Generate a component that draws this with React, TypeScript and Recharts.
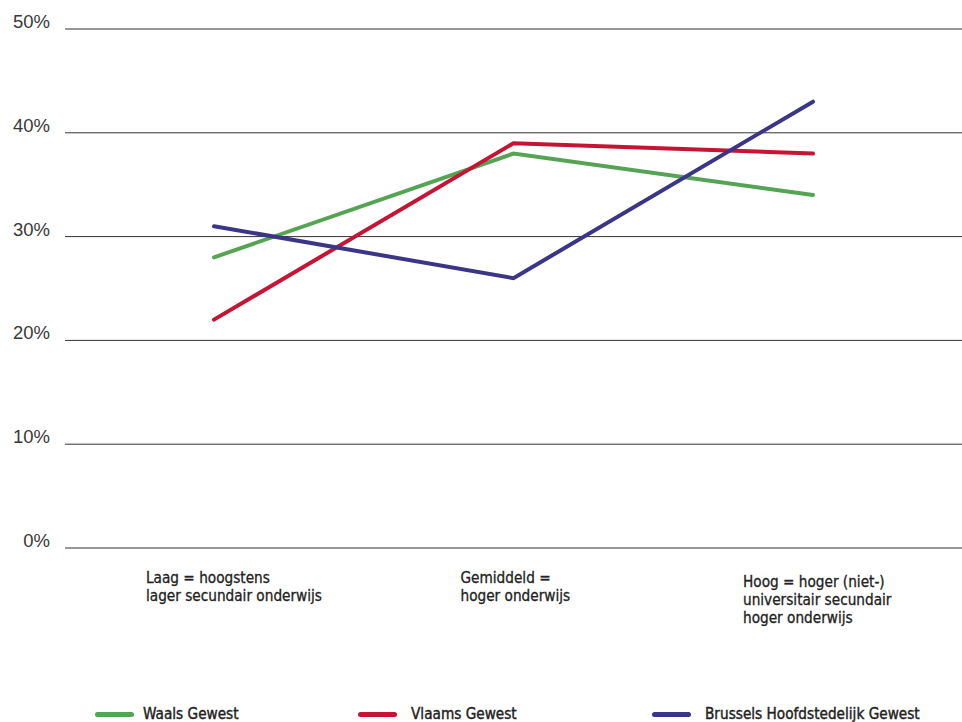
import React from "react";
import { LineChart, Line, XAxis, YAxis, CartesianGrid, Legend } from "recharts";

const categories = ["Laag", "Gemiddeld", "Hoog"];
const categoryLines: string[][] = [
  ["Laag = hoogstens", "lager secundair onderwijs"],
  ["Gemiddeld =", "hoger onderwijs"],
  ["Hoog = hoger (niet-)", "universitair secundair", "hoger onderwijs"],
];
const waals = [28, 38, 34];
const vlaams = [22, 39, 38];
const brussel = [31, 26, 43];
const yTicks = [0, 10, 20, 30, 40, 50];

const seriesNames = ["Waals Gewest", "Vlaams Gewest", "Brussels Hoofdstedelijk Gewest"];
const seriesColors = ["#55a453", "#c51434", "#3a3587"];

const data = categories.map((c, i) => ({
  cat: c,
  waals: waals[i],
  vlaams: vlaams[i],
  brussel: brussel[i],
}));

const catFont = "'Liberation Sans Narrow', 'Arial Narrow', 'DejaVu Sans Condensed', sans-serif";
const tickDx = [-68, -53, -70];
const tickDy = [35, 35, 39];
const legendLeft = [95, 358, 652];

const XTick = (props: any) => {
  const { x, y, index } = props;
  const lines = categoryLines[index] || [];
  return (
    <text
      x={x + tickDx[index]}
      y={y + tickDy[index]}
      fontFamily={catFont}
      fontSize={15.2}
      fill="#222"
      stroke="#222"
      strokeWidth={0.3}
      textAnchor="start"
    >
      {lines.map((l, i) => (
        <tspan key={i} x={x + tickDx[index]} dy={i === 0 ? 0 : 18}>
          {l}
        </tspan>
      ))}
    </text>
  );
};

const YTick = (props: any) => {
  const { x, y, payload } = props;
  return (
    <text
      x={x - 15}
      y={y - 1}
      textAnchor="end"
      fontFamily="'Liberation Sans', Arial, sans-serif"
      fontSize={18.5}
      fill="#383838"
    >
      {payload.value + "%"}
    </text>
  );
};

const LegendContent = () => (
  <div style={{ position: "relative", width: 962, height: 22 }}>
    {seriesNames.map((n, i) => (
      <div
        key={n}
        style={{
          position: "absolute",
          left: legendLeft[i],
          top: 0,
          display: "flex",
          alignItems: "center",
          height: 22,
        }}
      >
        <div
          style={{
            width: 39,
            height: 5,
            borderRadius: 3,
            background: seriesColors[i],
            marginRight: i === 0 ? 9 : 14,
          }}
        />
        <span
          style={{
            fontFamily: catFont,
            fontSize: 15.2,
            color: "#222",
            whiteSpace: "nowrap",
            WebkitTextStroke: "0.4px #222",
          }}
        >
          {n}
        </span>
      </div>
    ))}
  </div>
);

export default function App() {
  return (
    <div style={{ position: "absolute", left: 0, top: 0, width: 962, height: 722, background: "#fff" }}>
      <LineChart
        width={962}
        height={722}
        data={data}
        margin={{ top: 29, right: 0, left: 0, bottom: 74 }}
      >
        <CartesianGrid vertical={false} horizontal stroke="#333" strokeWidth={1} />
        <XAxis
          dataKey="cat"
          axisLine={false}
          tickLine={false}
          tickSize={0}
          tickMargin={0}
          height={100}
          interval={0}
          padding={{ left: 149, right: 149 }}
          tick={<XTick />}
        />
        <YAxis
          domain={[0, 50]}
          ticks={yTicks}
          width={65}
          axisLine={false}
          tickLine={false}
          tickSize={0}
          tickMargin={0}
          tick={<YTick />}
        />
        <Legend
          layout="horizontal"
          verticalAlign="middle"
          align="center"
          content={<LegendContent />}
          wrapperStyle={{ position: "absolute", left: 0, top: 703, width: 962 }}
        />
        <Line type="linear" dataKey="waals" name={seriesNames[0]} stroke={seriesColors[0]} strokeWidth={4} dot={false} strokeLinecap="round" isAnimationActive={false} />
        <Line type="linear" dataKey="vlaams" name={seriesNames[1]} stroke={seriesColors[1]} strokeWidth={4} dot={false} strokeLinecap="round" isAnimationActive={false} />
        <Line type="linear" dataKey="brussel" name={seriesNames[2]} stroke={seriesColors[2]} strokeWidth={4} dot={false} strokeLinecap="round" isAnimationActive={false} />
      </LineChart>
    </div>
  );
}
